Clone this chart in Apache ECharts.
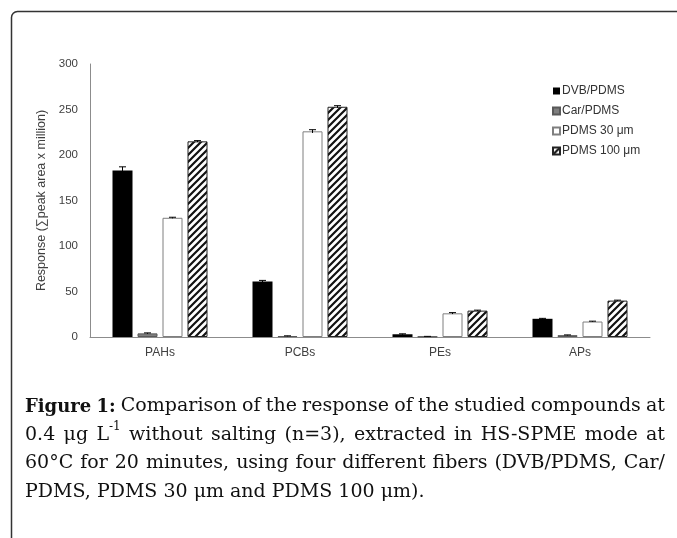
<!DOCTYPE html>
<html>
<head>
<meta charset="utf-8">
<script src="https://cdn.jsdelivr.net/npm/echarts@6/dist/echarts.min.js"></script>
<style>
	html, body { margin: 0; padding: 0; background: #fff; }
	#chart { width: 677px; height: 538px; }
</style>
</head>
<body>
<div id="chart"></div>
<script>
// compound classes on the x axis
var categories = ['PAHs', 'PCBs', 'PEs', 'APs'];
var fiberNames = ['DVB/PDMS', 'Car/PDMS', 'PDMS 30 μm', 'PDMS 100 μm'];

// response values (sum peak area x million), one array per fiber
var dvbPdms = [183, 61, 3, 20];
var carPdms = [4, 1, 0.5, 2];
var pdms30 = [131, 226, 26, 17];
var pdms100 = [215, 253, 29, 40];

// standard deviations (n=3)
var dvbPdmsErr = [4, 1.2, 0.5, 0.5];
var carPdmsErr = [0.5, 0.3, 0.2, 0.3];
var pdms30Err = [0.6, 1.8, 0.8, 0.4];
var pdms100Err = [0.8, 1.2, 0.5, 0.5];

var yTicks = [0, 50, 100, 150, 200, 250, 300];

var captionLines = [
	[[{t: 'Figure', b: 1}], [{t: '1:', b: 1}], 'Comparison', 'of', 'the', 'response', 'of', 'the', 'studied', 'compounds', 'at'],
	['0.4', 'μg', [{t: 'L'}, {t: '-1', sup: 1}], 'without', 'salting', '(n=3),', 'extracted', 'in', 'HS-SPME', 'mode', 'at'],
	['60°C', 'for', '20', 'minutes,', 'using', 'four', 'different', 'fibers', '(DVB/PDMS,', 'Car/'],
	['PDMS,', 'PDMS', '30', 'μm', 'and', 'PDMS', '100', 'μm).']
];

var chart = echarts.init(document.getElementById('chart'));

// diagonal hatch for the PDMS 100 um bars
var hatch = document.createElement('canvas');
hatch.width = 7;
hatch.height = 7;
(function(){
	var ctx = hatch.getContext('2d');
	ctx.fillStyle = '#fff';
	ctx.fillRect(0, 0, 7, 7);
	ctx.strokeStyle = '#111';
	ctx.lineWidth = 2.2;
	ctx.beginPath();
	ctx.moveTo(-1, 8); ctx.lineTo(8, -1);
	ctx.moveTo(-4.5, 4.5); ctx.lineTo(4.5, -4.5);
	ctx.moveTo(2.5, 11.5); ctx.lineTo(11.5, 2.5);
	ctx.stroke();
})();

var barStyles = [
	{ color: '#000', borderColor: '#000', borderWidth: 0 },
	{ color: '#7f7f7f', borderColor: '#595959', borderWidth: 1 },
	{ color: '#fff', borderColor: '#7f7f7f', borderWidth: 1 },
	{ color: { image: hatch, repeat: 'repeat' }, borderColor: '#222', borderWidth: 1 }
];

var values = [dvbPdms, carPdms, pdms30, pdms100];
var errors = [dvbPdmsErr, carPdmsErr, pdms30Err, pdms100Err];

var series = [];
fiberNames.forEach(function(name, i){
	series.push({
		name: name,
		type: 'bar',
		barWidth: 20,
		barGap: '25%',
		data: values[i],
		itemStyle: barStyles[i],
		emphasis: { disabled: true }
	});
});

// error bars drawn on top of each bar
fiberNames.forEach(function(name, i){
	var errData = values[i].map(function(v, k){ return [k, v, errors[i][k]]; });
	series.push({
		type: 'custom',
		name: name + ' err',
		data: errData,
		encode: { x: 0, y: 1 },
		z: 5,
		renderItem: function(params, api){
			var offset = (i - 1.5) * 25;
			var top = api.coord([api.value(0), api.value(1) + api.value(2)]);
			var bottom = api.coord([api.value(0), api.value(1) - api.value(2)]);
			var x = top[0] + offset;
			var style = { stroke: '#000', lineWidth: 1, fill: null };
			return {
				type: 'group',
				children: [
					{ type: 'line', shape: { x1: x, y1: top[1], x2: x, y2: bottom[1] }, style: style },
					{ type: 'line', shape: { x1: x - 3.5, y1: top[1], x2: x + 3.5, y2: top[1] }, style: style }
				]
			};
		}
	});
});

// caption: justified lines placed word by word
var measureCtx = document.createElement('canvas').getContext('2d');
var capSize = 19;
var capFamily = '"DejaVu Serif", serif';
function segFont(seg){
	var size = seg.sup ? 12 : (seg.b ? 18 : capSize);
	return (seg.b ? 'bold ' : '') + size + 'px ' + capFamily;
}
function segs(word){
	return typeof word === 'string' ? [{ t: word }] : word;
}
function wordWidth(word){
	var w = 0;
	segs(word).forEach(function(s){
		measureCtx.font = segFont(s);
		w += measureCtx.measureText(s.t).width;
	});
	return w;
}

var captionGraphics = [];
var capLeft = 25, capRight = 665;
var baselines = [413, 442, 470, 499];
measureCtx.font = capSize + 'px ' + capFamily;
var spaceW = measureCtx.measureText(' ').width;

captionLines.forEach(function(words, li){
	var widths = words.map(wordWidth);
	var total = widths.reduce(function(a, b){ return a + b; }, 0);
	var justify = li < captionLines.length - 1;
	var gap = justify ? (capRight - capLeft - total) / (words.length - 1) : spaceW;
	var x = capLeft;
	words.forEach(function(word, wi){
		var sx = x;
		segs(word).forEach(function(s){
			measureCtx.font = segFont(s);
			captionGraphics.push({
				type: 'text',
				left: sx,
				top: baselines[li] - (s.sup ? 21 : (s.b ? 15 : 16)),
				silent: true,
				style: {
					text: s.t,
					font: segFont(s),
					fill: '#111'
				}
			});
			sx += measureCtx.measureText(s.t).width;
		});
		x += widths[wi] + gap;
	});
});

var option = {
	animation: false,
	backgroundColor: '#fff',
	grid: {
		left: 90,
		right: 27,
		top: 64,
		bottom: 201
	},
	legend: {
		orient: 'vertical',
		left: 547,
		top: 79,
		itemWidth: 7,
		itemHeight: 7,
		itemGap: 6,
		icon: 'rect',
		data: fiberNames,
		selectedMode: false,
		textStyle: {
			fontFamily: '"Liberation Sans", Arial, sans-serif',
			fontSize: 12,
			lineHeight: 14,
			color: '#333',
			padding: [0, 0, 0, -3]
		}
	},
	xAxis: {
		type: 'category',
		data: categories,
		axisLine: { lineStyle: { color: '#8c8c8c', width: 1 } },
		axisTick: { show: false },
		axisLabel: {
			margin: 10,
			fontFamily: '"Liberation Sans", Arial, sans-serif',
			fontSize: 12,
			color: '#404040'
		}
	},
	yAxis: {
		type: 'value',
		min: 0,
		max: 300,
		interval: 50,
		name: 'Response (∑peak area x million)',
		nameLocation: 'middle',
		nameGap: 34,
		nameTextStyle: {
			fontFamily: '"Liberation Sans", Arial, sans-serif',
			fontSize: 12.5,
			color: '#404040'
		},
		axisLine: { show: true, lineStyle: { color: '#8c8c8c', width: 1 } },
		axisTick: { show: false },
		splitLine: { show: false },
		axisLabel: {
			margin: 12,
			fontFamily: '"Liberation Sans", Arial, sans-serif',
			fontSize: 11.5,
			color: '#404040',
			formatter: function(v){ return yTicks.indexOf(v) >= 0 ? String(v) : ''; }
		}
	},
	series: series,
	graphic: [
		{
			type: 'rect',
			silent: true,
			shape: { x: 11.5, y: 11.5, width: 720, height: 600, r: 6 },
			style: { fill: null, stroke: '#333', lineWidth: 1.5 }
		}
	].concat(captionGraphics)
};

chart.setOption(option);
</script>
</body>
</html>
